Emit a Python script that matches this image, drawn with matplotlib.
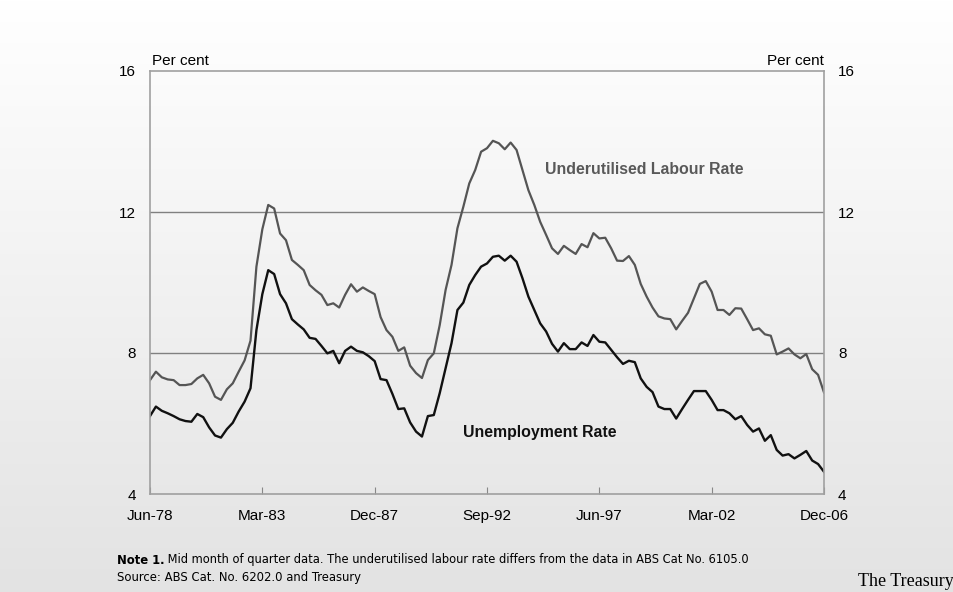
import numpy as np
import matplotlib
matplotlib.use("Agg")
import matplotlib.pyplot as plt

tick_labels = ["Jun-78", "Mar-83", "Dec-87", "Sep-92", "Jun-97", "Mar-02", "Dec-06"]

underutilised = [
    7.23, 7.47, 7.31, 7.25, 7.23, 7.09, 7.09, 7.12, 7.28, 7.38,
    7.14, 6.76, 6.67, 6.97, 7.14, 7.47, 7.79, 8.35, 10.45, 11.51,
    12.20, 12.10, 11.39, 11.20, 10.64, 10.50, 10.35, 9.93, 9.78, 9.65,
    9.36, 9.41, 9.29, 9.65, 9.95, 9.74, 9.86, 9.76, 9.67, 9.02,
    8.65, 8.46, 8.06, 8.16, 7.64, 7.43, 7.29, 7.80, 7.99, 8.79,
    9.79, 10.50, 11.54, 12.15, 12.81, 13.19, 13.71, 13.81, 14.02, 13.95,
    13.78, 13.97, 13.76, 13.19, 12.62, 12.20, 11.72, 11.35, 10.97, 10.81,
    11.04, 10.92, 10.81, 11.09, 11.00, 11.40, 11.25, 11.27, 10.97, 10.62,
    10.61, 10.75, 10.50, 9.96, 9.60, 9.29, 9.04, 8.98, 8.96, 8.67,
    8.91, 9.14, 9.55, 9.96, 10.04, 9.74, 9.22, 9.22, 9.08, 9.27,
    9.26, 8.96, 8.65, 8.70, 8.53, 8.49, 7.96, 8.04, 8.13, 7.96,
    7.85, 7.97, 7.54, 7.38, 6.88,
]

unemployment = [
    6.21, 6.48, 6.36, 6.29, 6.21, 6.12, 6.07, 6.05, 6.27, 6.18,
    5.89, 5.66, 5.60, 5.84, 6.02, 6.34, 6.62, 7.00, 8.65, 9.67,
    10.35, 10.24, 9.67, 9.41, 8.96, 8.81, 8.67, 8.43, 8.40, 8.20,
    7.99, 8.06, 7.71, 8.06, 8.18, 8.06, 8.02, 7.91, 7.77, 7.26,
    7.23, 6.84, 6.41, 6.43, 6.03, 5.77, 5.63, 6.21, 6.24, 6.86,
    7.57, 8.28, 9.22, 9.43, 9.93, 10.21, 10.45, 10.54, 10.73, 10.76,
    10.62, 10.76, 10.59, 10.12, 9.60, 9.22, 8.84, 8.61, 8.26, 8.04,
    8.28, 8.11, 8.11, 8.30, 8.20, 8.51, 8.32, 8.30, 8.09, 7.88,
    7.69, 7.78, 7.74, 7.28, 7.04, 6.89, 6.48, 6.41, 6.41, 6.14,
    6.41, 6.67, 6.92, 6.92, 6.92, 6.67, 6.38, 6.38, 6.29, 6.12,
    6.21, 5.96, 5.77, 5.86, 5.51, 5.67, 5.25, 5.09, 5.13, 5.01,
    5.11, 5.22, 4.95, 4.85, 4.63,
]

y_ticks = [4, 8, 12, 16]

plt.rcParams['font.family'] = ['Liberation Sans', 'DejaVu Sans']

fig = plt.figure(figsize=(9.54, 5.92), dpi=100)

# background gradient
bg = fig.add_axes([0, 0, 1, 1], zorder=0)
grad = np.linspace(1.0, 0.89, 256).reshape(-1, 1)
bg.imshow(np.dstack([grad, grad, grad]), aspect='auto', extent=[0, 1, 0, 1], origin='upper')
bg.set_xlim(0, 1)
bg.set_ylim(0, 1)
bg.set_axis_off()

ax = fig.add_axes([150/954, 1-494/592, 674/954, 423/592], zorder=1)
ax.patch.set_alpha(0)

x = np.arange(len(underutilised))
ax.plot(x, underutilised, color='#555555', lw=1.6)
ax.plot(np.arange(len(unemployment)), unemployment, color='#111111', lw=1.7)

ax.set_xlim(0, len(underutilised) - 1)
ax.set_ylim(4, 16)
ax.set_xticks(np.arange(len(tick_labels)) * 19)
ax.set_xticklabels(tick_labels, fontsize=11)
ax.set_yticks(y_ticks)
ax.set_yticklabels([str(v) for v in y_ticks], fontsize=11)
ax.tick_params(axis='x', direction='in', length=5, color='#888888', pad=11)
ax.tick_params(axis='y', length=0, pad=10, labelright=True, right=False)

for v in [8, 12]:
    ax.axhline(v, color='#808080', lw=1.0, zorder=0)

for s in ax.spines.values():
    s.set_color('#a0a0a0')
    s.set_linewidth(1.2)

ax.text(0.003, 1.006, 'Per cent', transform=ax.transAxes, ha='left', va='bottom', fontsize=11)
ax.text(1.0, 1.006, 'Per cent', transform=ax.transAxes, ha='right', va='bottom', fontsize=11)

ax.text(644/954, 1-170/592, 'Underutilised Labour Rate', transform=fig.transFigure,
        ha='center', va='center', fontsize=11.4, fontweight='bold', color='#595959')
ax.text(540/954, 1-433/592, 'Unemployment Rate', transform=fig.transFigure,
        ha='center', va='center', fontsize=11.4, fontweight='bold', color='#111111')

foot = ['DejaVu Sans']
note = bg.text(117/954, 1-560/592, 'Note 1.', fontsize=8.4, fontweight='bold',
               ha='left', va='center', family=foot)
bg.annotate(' Mid month of quarter data. The underutilised labour rate differs from the data in ABS Cat No. 6105.0',
            xy=(1, 0.5), xycoords=note, va='center', ha='left', fontsize=8.3, family=foot,
            annotation_clip=False)
bg.text(117/954, 1-578/592, 'Source: ABS Cat. No. 6202.0 and Treasury', fontsize=8.4,
        ha='left', va='center', family=foot)
bg.text(858/954, 1-581/592, 'The Treasury', fontsize=13, ha='left', va='center',
        family=['Liberation Serif', 'DejaVu Serif'], clip_on=False)

fig.savefig('out.png', dpi=100)
